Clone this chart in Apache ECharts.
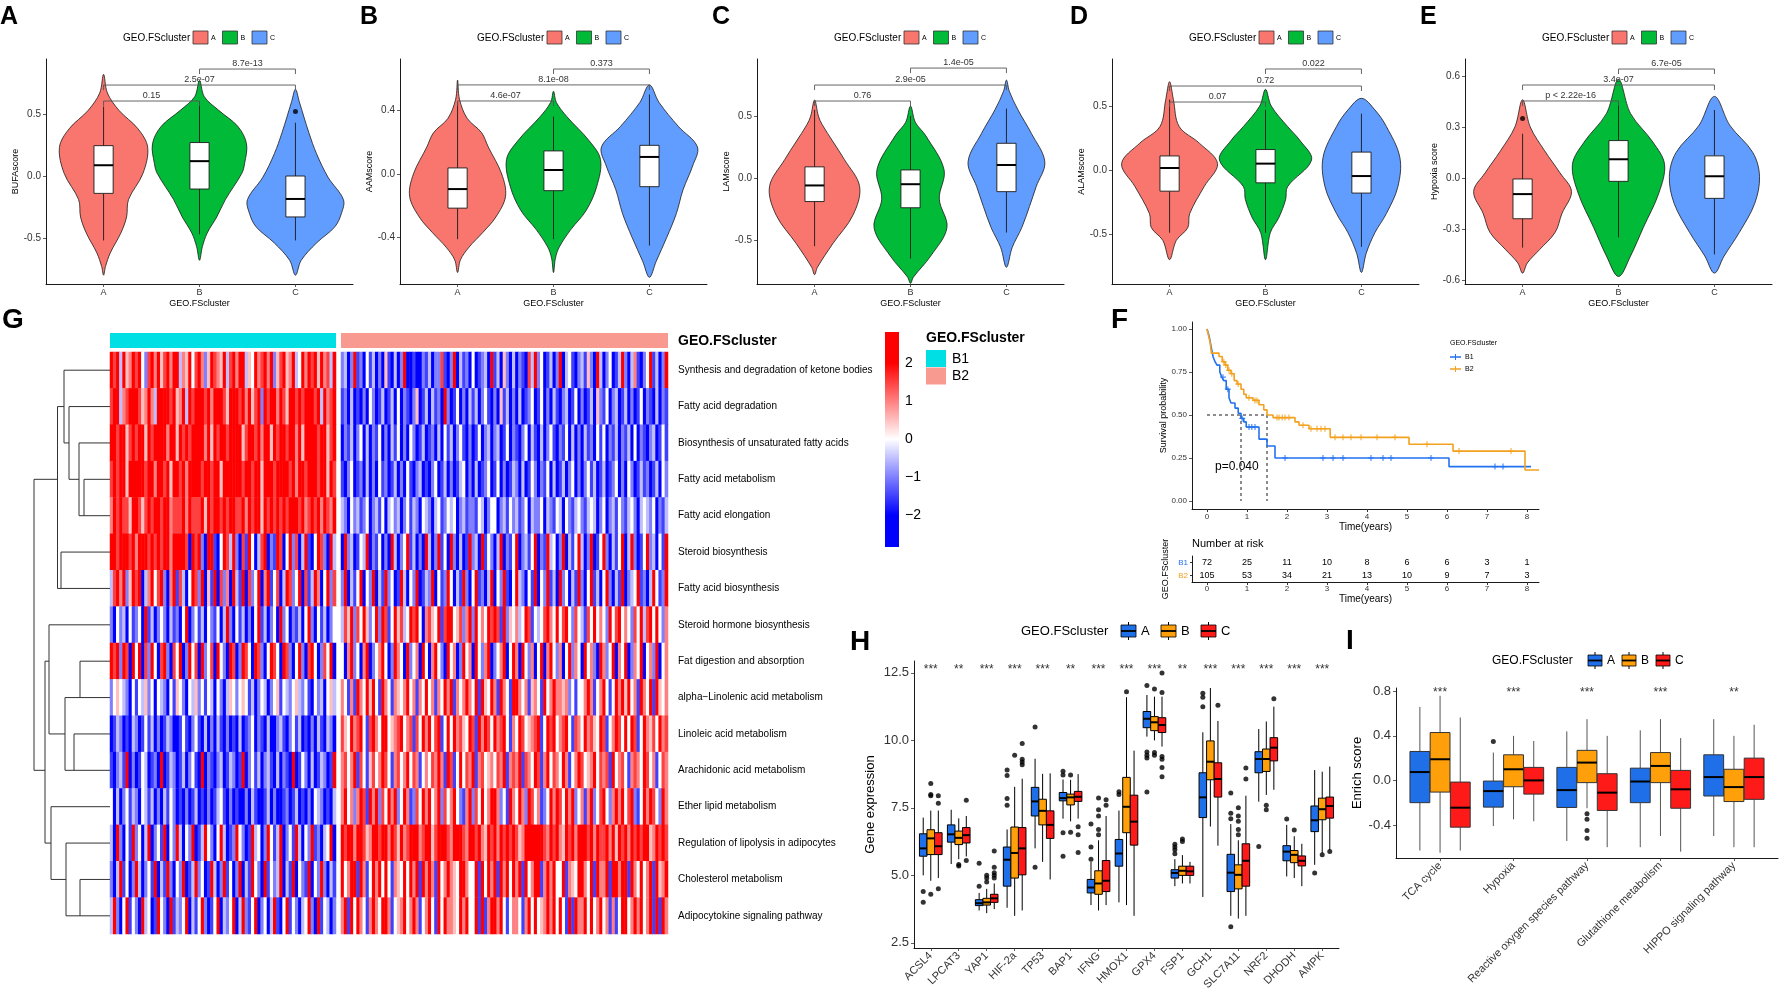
<!DOCTYPE html>
<html><head><meta charset="utf-8">
<script src="https://cdn.jsdelivr.net/npm/echarts@6/dist/echarts.min.js"></script>
<style>html,body{margin:0;padding:0;background:#fff}#chart{width:1781px;height:991px}</style>
</head><body><div id="chart"></div>
<script>
// ================= DATA =================
const clusterNames = ['A','B','C'];
const violinScoreNames = ['BUFAscore','AAMscore','LAMscore','ALAMscore','Hypoxia score'];
// violin density outlines: [y, half-width in category units]
const bufaProfile = [
  [[0.82,0],[0.67,0.04],[0.53,0.16],[0.38,0.36],[0.23,0.46],[0.02,0.41],[-0.19,0.26],[-0.33,0.24],[-0.46,0.18],[-0.62,0.07],[-0.73,0.02],[-0.8,0]],
  [[0.77,0],[0.64,0.05],[0.53,0.2],[0.4,0.4],[0.26,0.49],[0.1,0.47],[0.02,0.44],[-0.19,0.27],[-0.33,0.18],[-0.46,0.08],[-0.57,0.03],[-0.68,0]],
  [[0.7,0],[0.6,0.04],[0.35,0.14],[0.18,0.22],[-0.01,0.34],[-0.19,0.5],[-0.3,0.48],[-0.41,0.41],[-0.54,0.22],[-0.68,0.06],[-0.8,0]]
];
const aamProfile = [
  [[0.59,0],[0.47,0.02],[0.35,0.1],[0.26,0.25],[0.17,0.32],[0.0,0.46],[-0.14,0.5],[-0.27,0.4],[-0.37,0.26],[-0.46,0.12],[-0.54,0.03],[-0.62,0]],
  [[0.52,0],[0.45,0.03],[0.36,0.14],[0.21,0.37],[0.09,0.49],[-0.08,0.45],[-0.23,0.34],[-0.35,0.18],[-0.46,0.06],[-0.53,0.02],[-0.62,0]],
  [[0.56,0],[0.45,0.1],[0.3,0.3],[0.17,0.5],[0.05,0.45],[-0.1,0.35],[-0.25,0.28],[-0.4,0.18],[-0.55,0.07],[-0.65,0]]
];
const lamProfile = [
  [[0.63,0],[0.5,0.04],[0.43,0.08],[0.15,0.31],[-0.07,0.47],[-0.3,0.4],[-0.53,0.19],[-0.72,0.03],[-0.78,0]],
  [[0.58,0],[0.45,0.05],[0.34,0.16],[0.065,0.35],[-0.17,0.3],[-0.4,0.38],[-0.63,0.21],[-0.8,0.03],[-0.85,0]],
  [[0.79,0],[0.7,0.03],[0.55,0.12],[0.36,0.26],[0.13,0.4],[-0.07,0.31],[-0.23,0.24],[-0.4,0.16],[-0.56,0.06],[-0.72,0]]
];
const alamProfile = [
  [[0.69,0],[0.55,0.04],[0.34,0.1],[0.21,0.31],[0.05,0.5],[-0.13,0.36],[-0.34,0.21],[-0.45,0.19],[-0.55,0.07],[-0.7,0]],
  [[0.63,0],[0.5,0.06],[0.34,0.23],[0.23,0.36],[0.078,0.48],[-0.13,0.23],[-0.23,0.21],[-0.37,0.14],[-0.49,0.05],[-0.7,0]],
  [[0.56,0],[0.47,0.14],[0.34,0.26],[0.1,0.4],[-0.13,0.38],[-0.34,0.26],[-0.49,0.14],[-0.65,0.05],[-0.8,0]]
];
const hypoxiaProfile = [
  [[0.46,0],[0.3,0.08],[0.16,0.23],[0.03,0.39],[-0.08,0.51],[-0.21,0.41],[-0.32,0.34],[-0.42,0.18],[-0.5,0.05],[-0.56,0]],
  [[0.58,0],[0.38,0.125],[0.21,0.36],[0.08,0.48],[-0.09,0.42],[-0.29,0.26],[-0.46,0.125],[-0.58,0]],
  [[0.48,0],[0.31,0.16],[0.15,0.4],[0.01,0.47],[-0.15,0.42],[-0.32,0.26],[-0.46,0.1],[-0.56,0]]
];
// box stats [lower whisker, Q1, median, Q3, upper whisker]
const bufaBox = [[-0.52,-0.14,0.087,0.245,0.56],[-0.47,-0.105,0.12,0.27,0.6],[-0.52,-0.33,-0.185,0.0,0.43]];
const aamBox = [[-0.41,-0.215,-0.095,0.038,0.45],[-0.41,-0.105,0.025,0.145,0.36],[-0.45,-0.08,0.107,0.18,0.5]];
const lamBox = [[-0.55,-0.19,-0.06,0.09,0.55],[-0.65,-0.24,-0.05,0.065,0.5],[-0.44,-0.11,0.105,0.28,0.56]];
const alamBox = [[-0.49,-0.165,0.016,0.11,0.55],[-0.49,-0.1,0.05,0.16,0.47],[-0.6,-0.18,-0.047,0.14,0.44]];
const hypoxiaBox = [[-0.41,-0.24,-0.095,-0.006,0.26],[-0.35,-0.02,0.11,0.22,0.45],[-0.45,-0.12,0.01,0.13,0.4]];
const bufaOutliers = [[3,0.52]];
const aamOutliers = [];
const lamOutliers = [];
const alamOutliers = [];
const hypoxiaOutliers = [[1,0.35]];
// p-values for pairs A-B, A-C, B-C
const bracketPairs = [[1,2],[1,3],[2,3]];
const bufaP = ['0.15','2.5e-07','8.7e-13'];
const aamP = ['4.6e-07','8.1e-08','0.373'];
const lamP = ['0.76','2.9e-05','1.4e-05'];
const alamP = ['0.07','0.72','0.022'];
const hypoxiaP = ['p < 2.22e-16','3.4e-07','6.7e-05'];
const violinYMin = [-0.871,-0.692,-0.855,-0.89,-0.624];
const violinYMax = [0.944,0.723,0.96,0.867,0.7];
const violinTicks = [[-0.5,0,0.5],[-0.4,0,0.4],[-0.5,0,0.5],[-0.5,0,0.5],[-0.6,-0.3,0,0.3,0.6]];
const violinBracketY = [[0.605,0.734,0.863],[0.459,0.56,0.66],[0.621,0.75,0.887],[0.531,0.656,0.789],[0.453,0.547,0.641]];

// ---- heatmap (G) ----
const heatPathways = ['Synthesis and degradation of ketone bodies','Fatty acid degradation','Biosynthesis of unsaturated fatty acids','Fatty acid metabolism','Fatty acid elongation','Steroid biosynthesis','Fatty acid biosynthesis','Steroid hormone biosynthesis','Fat digestion and absorption','alpha\u2212Linolenic acid metabolism','Linoleic acid metabolism','Arachidonic acid metabolism','Ether lipid metabolism','Regulation of lipolysis in adipocytes','Cholesterol metabolism','Adipocytokine signaling pathway'];
const heatClusters = ['B1','B2'];
const clusterSizes = [72,105];
// each digit d encodes a z-score of (d-4)/2
const heatRowsB1 = [
 '87838568 78427868 57868836 58478625 87658378 68835486 78682578 56834868 78586738',
 '78836788 87568638 88878568 38788878 68887588 87868578 28788687 58878788 87838678',
 '88788578 78858788 88688587 87888868 58788788 88578878 68858788 78868588 88788578',
 '78788588 88878868 87858878 68888788 78858888 88788788 58887888 87868878 88788587',
 '68787758 87578788 78867778 68777858 78878788 77868788 58787878 78887867 87868768',
 '88788878 68887878 78868888 70878208 81048738 20718403 78021870 48270381 04872083',
 '37868258 78036847 82068173 04872805 18072608 31807248 06814703 87248071 38604827',
 '20423041 24081302 42031204 80241304 21403820 41302048 13024082 40213048 20413024',
 '87828708 48072840 78207480 28470824 70842087 02874087 20487408 72048207 84027480',
 '24543204 14352404 32041542 04352414 30420354 24541302 43024514 32453241 04230453',
 '01320103 20141302 01320014 10241030 20310201 03012402 10300231 02413010 20310320',
 '10231802 01430120 80132013 02410802 10230132 01802413 02310302 10801420 30132018',
 '40302413 20431302 03142010 20130102 01341020 10020310 01302001 20130102 04320103',
 '30820418 24038024 18042830 42801384 20483012 84201834 02841380 24183042 81203480',
 '20381402 83024180 31820428 01382401 83028140 28031842 08142380 31804218 04282031',
 '38204814 20834018 42081324 80314820 14803248 03821480 24038104 81420348 20814302'
];
const heatRowsB2 = [
 '2302812 0413020 5103028 0010021 3022710 2803120 4012308 1305203 0210738 2401302 8034102 3152083 0240138 2036102 4813028',
 '1203010 2042013 0130402 1025013 0312082 0140203 1302410 2051302 0301240 1402031 0230140 2013052 1402301 3020140 2103021',
 '0213024 0302140 2031402 0420130 1203041 3024102 0140230 2301402 1024031 0302410 2140302 0312041 4021302 1304021 0230141',
 '1024012 0302041 2013020 4102301 0240130 2013402 0301240 1402013 2030142 0214030 1302402 0241301 3012402 0420131 2013042',
 '3204231 2402314 0342302 4132043 2034124 3402312 2143024 4023142 3124032 2403214 3042134 2134302 4023142 1342034 3240213',
 '0823014 3802140 2083024 8130208 3028140 8203018 2308142 0380214 8023148 0218340 2803148 3028014 8203148 0382014 8230418',
 '2803148 0428031 8240183 0428013 2804128 4031820 4812038 0428104 8320418 0428130 8240318 2048130 4820318 0234812 0384128',
 '3758274 8524828 7148573 4878406 7548178 8457268 2846487 8718254 6348714 3478648 4784274 3174846 4284784 6427483 7848426',
 '4068240 6802468 4028640 8246084 0684208 4602846 0842680 2468048 6084260 4806842 6048264 0846208 6248064 8026480 4628046',
 '6416186 4858418 6416546 8461648 4616486 8164686 4818548 6186418 8646156 4184686 6562414 4686146 8414868 5846186 4818546',
 '7548678 4178648 8456784 6717486 8478148 4867548 7186874 8678416 4874567 8148784 6784176 4867548 7146874 8487148 6574867',
 '6746817 4157468 7416746 8476146 4768618 7148476 8167456 4768167 6817648 7168476 4861468 7456847 6718467 4167648 7461476',
 '6846268 7186827 4868248 6127486 8468274 6842168 2748468 8624186 4862874 6124868 7486824 6168247 8426868 4782148 6874286',
 '8788688 7568878 8687586 7888678 8578887 6888768 8786587 8687878 7568888 8876878 6587868 8878687 7868587 8687878 8568787',
 '8468818 6148684 8416548 4868186 8618468 6548864 4818486 8186848 6818468 8168684 4816548 8648186 6818868 8186484 6818568',
 '6818486 4168648 8614568 4686146 8418486 6548684 4818168 8684146 6416848 4568684 8418186 6848468 4616148 8468684 6818186'
];
const heatLegendTicks = [-2,-1,0,1,2];
// dendrogram merges (negative = leaf row, positive = earlier merge), height
const dendroMerges = [[-4,-5,26],[-3,1,31],[-2,2,41],[-1,3,46],[-6,-7,49],[4,5,52.5],[-9,-10,30],[-11,-12,36],[7,8,45],[-8,9,61],[-15,-16,30],[-14,11,44],[-13,12,59],[10,13,65],[6,14,76]];

// ---- survival (F) ----
const kmB1 = [[0,1],[0.04,0.97],[0.07,0.94],[0.1,0.9],[0.15,0.84],[0.2,0.81],[0.25,0.79],[0.32,0.75],[0.37,0.72],[0.42,0.7],[0.48,0.65],[0.55,0.6],[0.6,0.57],[0.7,0.54],[0.78,0.51],[0.85,0.48],[0.92,0.46],[0.98,0.43],[1.3,0.36],[1.5,0.32],[1.7,0.25],[6.05,0.2],[8.1,0.2]];
const kmB2 = [[0,1],[0.04,0.96],[0.08,0.92],[0.11,0.86],[0.3,0.84],[0.38,0.81],[0.45,0.79],[0.52,0.76],[0.6,0.74],[0.68,0.7],[0.75,0.68],[0.85,0.65],[0.92,0.62],[0.98,0.6],[1.15,0.585],[1.3,0.56],[1.42,0.53],[1.5,0.5],[1.65,0.485],[2.2,0.46],[2.3,0.44],[2.55,0.42],[3.08,0.37],[5.05,0.33],[6.15,0.29],[7.95,0.18],[8.3,0.18]];
const kmCensorB1 = [0.4,0.52,0.88,1.05,1.12,1.2,1.95,2.9,3.15,3.4,4.1,4.4,4.6,5.6,7.2,7.4];
const kmCensorB2 = [0.42,0.47,0.55,0.62,0.78,1.05,1.2,1.25,1.75,1.8,1.88,1.95,2.05,2.4,2.6,2.75,2.85,2.95,3.2,3.4,3.6,3.85,4.25,4.7,5.5,6.3,7.6];
const kmPValue = 'p=0.040';
const riskTimes = [0,1,2,3,4,5,6,7,8];
const riskB1 = [72,25,11,10,8,6,6,3,1];
const riskB2 = [105,53,34,21,13,10,9,7,3];
const kmTimeTicks = [0,1,2,3,4,5,6,7,8];
const kmSurvTicks = [0,0.25,0.5,0.75,1];

// ---- gene expression (H) ----
const hGenes = ['ACSL4','LPCAT3','YAP1','HIF-2a','TP53','BAP1','IFNG','HMOX1','GPX4','FSP1','GCH1','SLC7A11','NRF2','DHODH','AMPK'];
const hSignif = ['***','**','***','***','***','**','***','***','***','**','***','***','***','***','***'];
const hBoxA = [[5.0,5.71,6.0,6.54,7.14],[5.42,6.23,6.52,6.87,7.43],[3.7,3.88,3.97,4.1,4.35],[3.8,4.6,5.58,6.05,6.7],[6.0,7.2,7.74,8.26,9.32],[7.1,7.76,7.86,8.07,8.55],[3.9,4.35,4.55,4.85,5.5],[4.0,5.34,5.81,6.33,7.4],[10.14,10.47,10.8,11.07,11.68],[4.6,4.9,5.09,5.21,5.6],[4.2,7.14,7.89,8.8,10.3],[3.5,4.4,5.1,5.78,6.9],[7.73,8.8,9.31,9.58,10.42],[4.96,5.54,5.88,6.1,6.87],[5.39,6.62,7.04,7.57,8.9]];
const hBoxB = [[4.8,5.77,6.37,6.69,7.4],[5.6,6.14,6.39,6.64,7.11],[3.6,3.9,4.0,4.15,4.5],[3.5,4.9,5.83,6.79,8.28],[5.5,6.87,7.39,7.82,8.76],[7.0,7.61,7.89,8.01,8.54],[3.7,4.3,4.7,5.17,6.3],[3.9,6.58,7.54,8.63,11.6],[10.0,10.36,10.67,10.88,11.62],[4.7,5.0,5.17,5.34,5.75],[6.81,8.54,9.21,9.98,11.94],[3.4,4.5,5.02,5.39,6.3],[7.98,8.85,9.31,9.68,10.7],[4.9,5.47,5.76,5.92,6.45],[5.82,7.06,7.45,7.86,8.84]];
const hBoxC = [[4.9,5.77,6.08,6.58,7.4],[5.7,6.2,6.49,6.77,7.2],[3.75,4.0,4.15,4.3,4.7],[3.7,5.02,6.0,6.77,8.58],[4.85,6.37,6.87,7.39,8.78],[7.1,7.74,7.91,8.11,8.75],[3.9,4.4,4.8,5.55,7.2],[3.5,6.12,6.99,7.97,9.62],[9.77,10.29,10.57,10.84,11.62],[4.7,5.0,5.15,5.34,5.5],[6.1,7.9,8.57,9.17,10.72],[3.5,4.6,5.54,6.17,7.95],[8.17,9.24,9.73,10.1,11.25],[4.6,5.35,5.54,5.72,6.17],[5.94,7.12,7.57,7.9,9.03]];
const hOutA = [[1,4.4],[1,4.0],[3,5.45],[3,4.6],[4,7.6],[4,7.85],[4,8.7],[4,8.9],[5,10.5],[5,5.3],[6,8.86],[6,8.72],[6,6.58],[6,5.71],[7,5.6],[7,6.05],[7,6.9],[8,8.0],[8,8.1],[9,12.03],[9,9.57],[9,9.45],[9,9.35],[9,8.09],[10,5.8],[10,5.95],[10,6.05],[10,6.15],[11,11.25],[11,11.6],[11,11.75],[12,7.1],[12,7.3],[12,8.05],[12,3.1],[13,6.07],[14,7.09],[15,5.09]];
const hOutB = [[1,8.0],[1,7.95],[1,8.4],[1,4.3],[2,5.4],[2,5.35],[3,4.75],[3,4.9],[3,5.0],[4,9.45],[6,8.72],[6,6.6],[7,6.5],[7,6.7],[7,7.2],[7,7.43],[7,7.87],[8,11.8],[9,11.9],[9,9.55],[9,9.45],[10,6.25],[10,6.35],[12,6.5],[12,6.7],[12,7.0],[12,7.2],[12,7.5],[13,7.6],[13,7.43],[14,6.68],[15,5.76]];
const hOutC = [[1,7.95],[1,7.67],[1,4.5],[2,7.78],[2,5.55],[3,4.9],[3,5.0],[3,5.1],[3,5.3],[3,5.9],[4,9.1],[4,9.2],[4,9.3],[4,9.88],[6,6.8],[6,6.5],[6,5.85],[7,7.6],[7,7.8],[9,12.5],[9,11.77],[9,9.4],[9,9.3],[9,9.0],[9,8.65],[11,11.3],[12,8.57],[12,8.98],[13,11.54],[15,5.88]];
const hYTicks = [2.5,5,7.5,10,12.5];

// ---- enrichment (I) ----
const iPathways = ['TCA cycle','Hypoxia','Reactive oxygen species pathway','Glutathione metabolism','HIPPO signaling pathway'];
const iSignif = ['***','***','***','***','**'];
const iBoxA = [[-0.63,-0.2,0.075,0.26,0.66],[-0.41,-0.24,-0.096,-0.006,0.25],[-0.544,-0.243,-0.087,0.117,0.44],[-0.6,-0.2,-0.01,0.11,0.45],[-0.5,-0.14,0.03,0.23,0.55]];
const iBoxB = [[-0.65,-0.105,0.19,0.43,0.76],[-0.35,-0.057,0.1,0.23,0.4],[-0.25,-0.02,0.16,0.27,0.55],[-0.5,-0.02,0.13,0.25,0.55],[-0.6,-0.19,-0.06,0.1,0.4]];
const iBoxC = [[-0.63,-0.42,-0.245,-0.015,0.565],[-0.367,-0.123,0.0,0.117,0.354],[-0.6,-0.27,-0.11,0.06,0.4],[-0.64,-0.25,-0.08,0.09,0.38],[-0.6,-0.17,0.03,0.2,0.5]];
const iOutA = [[2,0.35]];
const iOutB = [[3,-0.3],[3,-0.35],[3,-0.45],[3,-0.52]];
const iOutC = [];
const iYTicks = [-0.4,0,0.4,0.8];

// ================= STYLE / LAYOUT =================
const FONT = '"Liberation Sans", Arial, Helvetica, sans-serif';
const violinColors = ['#F8766D','#00BA38','#619CFF'];
const boxColors = ['#1F6FE8','#FFA00A','#FF1A1A'];
const heatColors = ['#0000FF','#FFFFFF','#FF0000'];
const annoColors = ['#00DFE3','#F99A90'];
const kmColors = ['#2271EF','#F3A11E'];
const panelOffsets = [0,354,711,1066,1419];

const grids = [], xAxes = [], yAxes = [], series = [], graphics = [];
function addGrid(g) { grids.push(Object.assign({outerBoundsMode:'none', containLabel:false}, g)); return grids.length - 1; }

function ggX(gi, names, o) {
  const vals = names.map((_, i) => i + 1);
  return {type:'value', gridIndex:gi, min:0.4, max:names.length + 0.6,
    axisLine:{show:true, onZero:false, lineStyle:{color:'#000', width:0.9}},
    axisTick:{show:true, length:3, customValues:vals, lineStyle:{color:'#333', width:0.8}},
    axisLabel:{show:true, customValues:vals, formatter:(v) => names[Math.round(v) - 1], fontSize:o.fs, color:'#333', margin:o.margin, rotate:o.rotate || 0, fontFamily:FONT},
    splitLine:{show:false},
    name:o.name || '', nameLocation:'middle', nameGap:o.nameGap || 15, nameTextStyle:{fontSize:o.nfs || 9, color:'#000', fontFamily:FONT}};
}
function ggY(gi, min, max, ticks, o) {
  return {type:'value', gridIndex:gi, min:min, max:max,
    axisLine:{show:true, onZero:false, lineStyle:{color:'#000', width:0.9}},
    axisTick:{show:true, length:3, customValues:ticks, lineStyle:{color:'#333', width:0.8}},
    axisLabel:{show:true, customValues:ticks, formatter:(v) => (Math.abs(v) < 1e-9 ? 0 : v).toFixed(o.dec), fontSize:o.fs, color:'#333', margin:o.margin, fontFamily:FONT},
    splitLine:{show:false},
    name:o.name || '', nameLocation:'middle', nameRotate:90, nameGap:o.nameGap, nameTextStyle:{fontSize:o.nfs, color:'#000', fontFamily:FONT}};
}
function hiddenAxis(extra) {
  return Object.assign({axisLine:{show:false, onZero:false}, axisTick:{show:false}, axisLabel:{show:false}, splitLine:{show:false}}, extra);
}

function violinRender(profiles) {
  return function (params, api) {
    const i = params.dataIndex;
    const cx = api.value(0);
    const prof = profiles[i];
    const right = prof.map(p => api.coord([cx + p[1], p[0]]));
    const left = prof.slice(1, prof.length - 1).reverse().map(p => api.coord([cx - p[1], p[0]]));
    return {type:'polygon', shape:{points:right.concat(left), smooth:0.35}, style:{fill:violinColors[i], stroke:'#1a1a1a', lineWidth:0.8}};
  };
}
function boxRender(offsets, halfW, fills, stroke, whisker, lw, medLw) {
  return function (params, api) {
    const g = api.value(6);
    const x = api.value(0) + offsets[g];
    const pLo = api.coord([x, api.value(1)]), pQ1 = api.coord([x, api.value(2)]), pMd = api.coord([x, api.value(3)]);
    const pQ3 = api.coord([x, api.value(4)]), pHi = api.coord([x, api.value(5)]);
    const hw = api.size([halfW, 0])[0];
    return {type:'group', children:[
      {type:'line', shape:{x1:pHi[0], y1:pHi[1], x2:pQ3[0], y2:pQ3[1]}, style:{stroke:whisker, lineWidth:lw}},
      {type:'line', shape:{x1:pQ1[0], y1:pQ1[1], x2:pLo[0], y2:pLo[1]}, style:{stroke:whisker, lineWidth:lw}},
      {type:'rect', shape:{x:pQ3[0] - hw, y:pQ3[1], width:2 * hw, height:pQ1[1] - pQ3[1]}, style:{fill:fills[g], stroke:stroke, lineWidth:lw}},
      {type:'line', shape:{x1:pMd[0] - hw, y1:pMd[1], x2:pMd[0] + hw, y2:pMd[1]}, style:{stroke:'#000', lineWidth:medLw}}
    ]};
  };
}
function bracketRender(labels) {
  return function (params, api) {
    const y = api.value(2);
    const p1 = api.coord([api.value(0), y]), p2 = api.coord([api.value(1), y]);
    return {type:'group', children:[
      {type:'polyline', shape:{points:[[p1[0], p1[1] + 5], [p1[0], p1[1]], [p2[0], p2[1]], [p2[0], p2[1] + 5]]}, style:{stroke:'#555', lineWidth:0.9, fill:null}},
      {type:'text', x:(p1[0] + p2[0]) / 2, y:p1[1] - 1, style:{text:labels[api.value(3)], align:'center', verticalAlign:'bottom', fontSize:9, fill:'#333', fontFamily:FONT}}
    ]};
  };
}
function textRender(labels, fs, color) {
  return function (params, api) {
    const p = api.coord([api.value(0), api.value(1)]);
    return {type:'text', x:p[0], y:p[1], style:{text:labels[api.value(2)], align:'center', verticalAlign:'middle', fontSize:fs, fill:color, fontFamily:FONT}};
  };
}
function gText(text, x, y, fs, opts) {
  opts = opts || {};
  graphics.push({type:'text', x:x, y:y, rotation:opts.rotation || 0, style:{text:text, fontSize:fs, fontWeight:opts.bold ? 'bold' : 'normal', fontFamily:FONT, fill:opts.color || '#000', align:opts.align || 'left', verticalAlign:opts.va || 'middle'}});
}
function gRect(x, y, w, h, fill, stroke) {
  graphics.push({type:'rect', shape:{x:x, y:y, width:w, height:h}, style:{fill:fill, stroke:stroke || null, lineWidth:stroke ? 0.8 : 0}});
}
function gBoxIcon(x, y, w, h, fill) {
  graphics.push({type:'line', shape:{x1:x + w / 2, y1:y - 3, x2:x + w / 2, y2:y + h + 3}, style:{stroke:'#000', lineWidth:1}});
  gRect(x, y, w, h, fill, '#000');
  graphics.push({type:'line', shape:{x1:x, y1:y + h / 2, x2:x + w, y2:y + h / 2}, style:{stroke:'#000', lineWidth:1.8}});
}

// ================= PANELS A–E (violins) =================
const violinProfiles = [bufaProfile, aamProfile, lamProfile, alamProfile, hypoxiaProfile];
const violinBoxes = [bufaBox, aamBox, lamBox, alamBox, hypoxiaBox];
const violinOutliers = [bufaOutliers, aamOutliers, lamOutliers, alamOutliers, hypoxiaOutliers];
const violinPvalues = [bufaP, aamP, lamP, alamP, hypoxiaP];
panelOffsets.forEach((off, k) => {
  const gi = addGrid({left:46 + off, top:59, width:307, height:225});
  xAxes.push(ggX(gi, clusterNames, {fs:9, margin:4, name:'GEO.FScluster', nameGap:15, nfs:9}));
  yAxes.push(ggY(gi, violinYMin[k], violinYMax[k], violinTicks[k], {dec:1, fs:10, margin:5, name:violinScoreNames[k], nameGap:24, nfs:9}));
  series.push({type:'custom', xAxisIndex:gi, yAxisIndex:gi, clip:false, z:2, data:clusterNames.map((c, i) => [i + 1, 0]), renderItem:violinRender(violinProfiles[k])});
  series.push({type:'custom', xAxisIndex:gi, yAxisIndex:gi, clip:false, z:3, data:violinBoxes[k].map((b, i) => [i + 1].concat(b, [0])), renderItem:boxRender([0], 0.1, ['#FFFFFF'], '#1a1a1a', '#1a1a1a', 0.9, 2)});
  series.push({type:'scatter', xAxisIndex:gi, yAxisIndex:gi, z:4, symbolSize:5, itemStyle:{color:'#000'}, data:violinOutliers[k]});
  series.push({type:'custom', xAxisIndex:gi, yAxisIndex:gi, clip:false, z:5, data:bracketPairs.map((p, i) => [p[0], p[1], violinBracketY[k][i], i]), renderItem:bracketRender(violinPvalues[k])});
  gText('GEO.FScluster', 123 + off, 38, 10);
  clusterNames.forEach((c, i) => {
    gRect(193 + off + i * 29.5, 31, 15, 13, violinColors[i], '#333');
    gText(c, 211 + off + i * 29.5, 38, 7);
  });
});
['A','B','C','D','E'].forEach((L, k) => gText(L, [0,360,712,1070,1420][k], 17, 25, {bold:true}));

// ================= PANEL G (heatmap) =================
const clean = s => s.replace(/\s+/g, '');
const heatB1Data = [], heatB2Data = [];
heatRowsB1.forEach((s, r) => clean(s).split('').forEach((ch, c) => heatB1Data.push([c, r, (Number(ch) - 4) / 2])));
heatRowsB2.forEach((s, r) => clean(s).split('').forEach((ch, c) => heatB2Data.push([c, r, (Number(ch) - 4) / 2])));
const b1Samples = Array.from({length:clusterSizes[0]}, (_, i) => 'B1_' + (i + 1));
const b2Samples = Array.from({length:clusterSizes[1]}, (_, i) => 'B2_' + (i + 1));
const heatGridB1 = addGrid({left:110, top:352, width:226, height:582});
xAxes.push(hiddenAxis({type:'category', gridIndex:heatGridB1, data:b1Samples}));
yAxes.push(hiddenAxis({type:'category', gridIndex:heatGridB1, data:heatPathways, inverse:true}));
const heatGridB2 = addGrid({left:341, top:352, width:327, height:582});
xAxes.push(hiddenAxis({type:'category', gridIndex:heatGridB2, data:b2Samples}));
yAxes.push({type:'category', gridIndex:heatGridB2, data:heatPathways, inverse:true, position:'right',
  axisLine:{show:false, onZero:false}, axisTick:{show:false}, splitLine:{show:false},
  axisLabel:{show:true, fontSize:10, color:'#000', margin:10, fontFamily:FONT}});
const heatSeriesIdx = [];
[[heatGridB1, heatB1Data], [heatGridB2, heatB2Data]].forEach((pair, k) => {
  heatSeriesIdx.push(series.length);
  series.push({type:'heatmap', xAxisIndex:pair[0], yAxisIndex:pair[0], data:pair[1], progressive:0, emphasis:{disabled:true}, itemStyle:{borderWidth:0}});
  series.push({type:'custom', xAxisIndex:pair[0], yAxisIndex:pair[0], clip:false, data:[[0, 0]],
    renderItem:(params, api) => { const cs = params.coordSys; return {type:'rect', shape:{x:cs.x, y:cs.y - 19, width:cs.width, height:15}, style:{fill:annoColors[k]}}; }});
});
// dendrogram
const nodePos = [], nodeH = [];
const dendroData = dendroMerges.map((m, i) => {
  const ref = r => r < 0 ? [(-r) - 1, 0] : [nodePos[r - 1], nodeH[r - 1]];
  const a = ref(m[0]), b = ref(m[1]);
  nodePos[i] = (a[0] + b[0]) / 2; nodeH[i] = m[2];
  return [m[2], a[0], b[0], a[1], b[1]];
});
const dendroGrid = addGrid({left:34, top:352, width:76, height:582});
xAxes.push(hiddenAxis({type:'value', gridIndex:dendroGrid, min:0, max:76, inverse:true}));
yAxes.push(hiddenAxis({type:'category', gridIndex:dendroGrid, data:heatPathways, inverse:true}));
series.push({type:'custom', xAxisIndex:dendroGrid, yAxisIndex:dendroGrid, clip:false, data:dendroData,
  renderItem:(params, api) => {
    const h = api.value(0), pa = api.value(1), pb = api.value(2), ha = api.value(3), hb = api.value(4);
    const pts = [api.coord([ha, pa]), api.coord([h, pa]), api.coord([h, pb]), api.coord([hb, pb])];
    return {type:'polyline', shape:{points:pts}, style:{stroke:'#333', lineWidth:1, fill:null}};
  }});
// colour bar
const cbMin = -2.84, cbMax = 2.82;
const cbGrid = addGrid({left:885, top:332, width:14, height:215});
xAxes.push(hiddenAxis({type:'value', gridIndex:cbGrid, min:0, max:1}));
yAxes.push({type:'value', gridIndex:cbGrid, min:cbMin, max:cbMax, position:'right',
  axisLine:{show:false, onZero:false}, axisTick:{show:false}, splitLine:{show:false},
  axisLabel:{show:true, customValues:heatLegendTicks, formatter:v => v < 0 ? '\u2212' + Math.abs(v) : String(v), fontSize:14, color:'#000', margin:6, fontFamily:FONT}});
series.push({type:'custom', xAxisIndex:cbGrid, yAxisIndex:cbGrid, clip:false, data:[[0, 0]],
  renderItem:(params, api) => {
    const p1 = api.coord([0, cbMax]), p2 = api.coord([1, cbMin]);
    const off = v => (cbMax - v) / (cbMax - cbMin);
    return {type:'rect', shape:{x:p1[0], y:p1[1], width:p2[0] - p1[0], height:p2[1] - p1[1]},
      style:{fill:{type:'linear', x:0, y:0, x2:0, y2:1, colorStops:[
        {offset:0, color:heatColors[2]}, {offset:off(2), color:heatColors[2]}, {offset:off(0), color:heatColors[1]},
        {offset:off(-2), color:heatColors[0]}, {offset:1, color:heatColors[0]}]}}};
  }});
gText('G', 2, 320, 28, {bold:true});
gText('GEO.FScluster', 678, 341, 14, {bold:true});
gText('GEO.FScluster', 926, 338, 14, {bold:true});
heatClusters.forEach((c, i) => {
  gRect(926, 350 + i * 17.5, 20, 17, annoColors[i]);
  gText(c, 952, 359 + i * 17.5, 14);
});

// ================= PANEL F (survival) =================
const kmGrid = addGrid({left:1192, top:322, width:347, height:187});
const kmX = {type:'value', gridIndex:kmGrid, min:-0.375, max:8.3,
  axisLine:{show:true, onZero:false, lineStyle:{color:'#000', width:0.9}},
  axisTick:{show:true, length:3, customValues:kmTimeTicks, lineStyle:{color:'#333'}},
  axisLabel:{show:true, customValues:kmTimeTicks, fontSize:8, color:'#333', margin:4, fontFamily:FONT},
  splitLine:{show:false}, name:'Time(years)', nameLocation:'middle', nameGap:13, nameTextStyle:{fontSize:10, color:'#000', fontFamily:FONT}};
xAxes.push(kmX);
yAxes.push(ggY(kmGrid, -0.0465, 1.0407, kmSurvTicks, {dec:2, fs:8, margin:5, name:'Survival probability', nameGap:20, nfs:9}));
const survAt = (curve, t) => { let s = 1; curve.forEach(p => { if (p[0] <= t) s = p[1]; }); return s; };
const medianOf = curve => { const p = curve.find(q => q[1] <= 0.5); return p ? p[0] : null; };
[[kmB1, kmCensorB1], [kmB2, kmCensorB2]].forEach((pair, k) => {
  series.push({type:'line', name:heatClusters[k], xAxisIndex:kmGrid, yAxisIndex:kmGrid, data:pair[0], step:'end', symbol:'none', lineStyle:{color:kmColors[k], width:1.6}, z:3});
  series.push({type:'scatter', xAxisIndex:kmGrid, yAxisIndex:kmGrid, symbol:'path://M5,0L5,10M0,5L10,5', symbolSize:6,
    itemStyle:{color:'rgba(0,0,0,0)', borderColor:kmColors[k], borderWidth:1.2}, data:pair[1].map(t => [t, survAt(pair[0], t)]), z:4});
});
const medB1 = medianOf(kmB1), medB2 = medianOf(kmB2);
[[[0, 0.5], [Math.max(medB1, medB2), 0.5]], [[medB1, 0.5], [medB1, 0]], [[medB2, 0.5], [medB2, 0]]].forEach(seg => {
  series.push({type:'line', xAxisIndex:kmGrid, yAxisIndex:kmGrid, data:seg, symbol:'none', lineStyle:{color:'#000', width:0.9, type:[3, 3]}, z:2});
});
gText(kmPValue, 1215, 467, 12);
gText('F', 1111, 320, 28, {bold:true});
gText('GEO.FScluster', 1450, 343, 7);
heatClusters.forEach((c, i) => {
  graphics.push({type:'line', shape:{x1:1450, y1:357 + i * 12, x2:1461, y2:357 + i * 12}, style:{stroke:kmColors[i], lineWidth:1.5}});
  graphics.push({type:'line', shape:{x1:1455.5, y1:354 + i * 12, x2:1455.5, y2:360 + i * 12}, style:{stroke:kmColors[i], lineWidth:1}});
  gText(c, 1465, 357 + i * 12, 7);
});
// risk table
const riskGrid = addGrid({left:1192, top:556, width:347, height:26});
xAxes.push(Object.assign({}, kmX, {gridIndex:riskGrid, nameGap:11, axisLabel:Object.assign({}, kmX.axisLabel, {fontSize:8, margin:3})}));
yAxes.push({type:'category', gridIndex:riskGrid, data:heatClusters, inverse:true,
  axisLine:{show:true, onZero:false, lineStyle:{color:'#000', width:0.9}}, axisTick:{show:true, length:2, alignWithLabel:true, lineStyle:{color:'#333'}}, splitLine:{show:false},
  axisLabel:{show:true, fontSize:8, margin:4, fontFamily:FONT, color:(v) => kmColors[heatClusters.indexOf(v)]},
  name:'GEO.FScluster', nameLocation:'middle', nameRotate:90, nameGap:22, nameTextStyle:{fontSize:9, color:'#000', fontFamily:FONT}});
const riskData = [];
riskTimes.forEach((t, i) => { riskData.push([t, 0, riskB1[i]]); riskData.push([t, 1, riskB2[i]]); });
series.push({type:'custom', xAxisIndex:riskGrid, yAxisIndex:riskGrid, clip:false, data:riskData,
  renderItem:(params, api) => { const p = api.coord([api.value(0), api.value(1)]); return {type:'text', x:p[0], y:p[1], style:{text:String(api.value(2)), align:'center', verticalAlign:'middle', fontSize:9, fill:'#000', fontFamily:FONT}}; }});
gText('Number at risk', 1192, 544, 11);

// ================= PANEL H (gene expression) =================
const hGrid = addGrid({left:914, top:661, width:425, height:287});
xAxes.push(ggX(hGrid, hGenes, {fs:11, margin:6, rotate:45}));
yAxes.push(ggY(hGrid, 2.31, 12.94, hYTicks, {dec:1, fs:13, margin:5, name:'Gene expression', nameGap:37, nfs:13}));
const hOffsets = [-0.27, 0, 0.27];
[hBoxA, hBoxB, hBoxC].forEach((stats, g) => {
  series.push({type:'custom', xAxisIndex:hGrid, yAxisIndex:hGrid, clip:false, z:3, data:stats.map((b, i) => [i + 1].concat(b, [g])), renderItem:boxRender(hOffsets, 0.135, boxColors, '#000', '#000', 1, 2)});
});
[hOutA, hOutB, hOutC].forEach((outs, g) => {
  series.push({type:'scatter', xAxisIndex:hGrid, yAxisIndex:hGrid, z:4, symbolSize:5, itemStyle:{color:'#000'}, data:outs.map(o => [o[0] + hOffsets[g], o[1]])});
});
series.push({type:'custom', xAxisIndex:hGrid, yAxisIndex:hGrid, clip:false, data:hSignif.map((s, i) => [i + 1, 12.63, i]), renderItem:textRender(hSignif, 12, '#333')});
gText('H', 850, 642, 28, {bold:true});
gText('GEO.FScluster', 1021, 631, 13);
clusterNames.forEach((c, i) => {
  gBoxIcon(1121 + i * 40, 625, 15, 12, boxColors[i]);
  gText(c, 1141 + i * 40, 631, 13);
});

// ================= PANEL I (enrichment) =================
const iGrid = addGrid({left:1396, top:688, width:382, height:170});
xAxes.push(ggX(iGrid, iPathways, {fs:11, margin:6, rotate:45}));
yAxes.push(ggY(iGrid, -0.697, 0.83, iYTicks, {dec:1, fs:13, margin:5, name:'Enrich score', nameGap:32, nfs:13}));
const iOffsets = [-0.275, 0, 0.275];
[iBoxA, iBoxB, iBoxC].forEach((stats, g) => {
  series.push({type:'custom', xAxisIndex:iGrid, yAxisIndex:iGrid, clip:false, z:3, data:stats.map((b, i) => [i + 1].concat(b, [g])), renderItem:boxRender(iOffsets, 0.135, boxColors, '#333', '#555', 1, 2)});
});
[iOutA, iOutB, iOutC].forEach((outs, g) => {
  series.push({type:'scatter', xAxisIndex:iGrid, yAxisIndex:iGrid, z:4, symbolSize:5, itemStyle:{color:'#000'}, data:outs.map(o => [o[0] + iOffsets[g], o[1]])});
});
series.push({type:'custom', xAxisIndex:iGrid, yAxisIndex:iGrid, clip:false, data:iSignif.map((s, i) => [i + 1, 0.79, i]), renderItem:textRender(iSignif, 12, '#333')});
gText('I', 1346, 641, 28, {bold:true});
gText('GEO.FScluster', 1492, 661, 12);
clusterNames.forEach((c, i) => {
  gBoxIcon(1588 + i * 34, 655, 14, 11, boxColors[i]);
  gText(c, 1607 + i * 34, 661, 12);
});

// ================= CHART =================
const chart = echarts.init(document.getElementById('chart'), null, {renderer:'canvas'});
chart.setOption({
  animation:false,
  backgroundColor:'#fff',
  textStyle:{fontFamily:FONT},
  grid:grids, xAxis:xAxes, yAxis:yAxes,
  visualMap:[{type:'continuous', show:false, min:-2, max:2, dimension:2, seriesIndex:heatSeriesIdx, inRange:{color:heatColors}}],
  series:series,
  graphic:{elements:graphics}
});
</script></body></html>
